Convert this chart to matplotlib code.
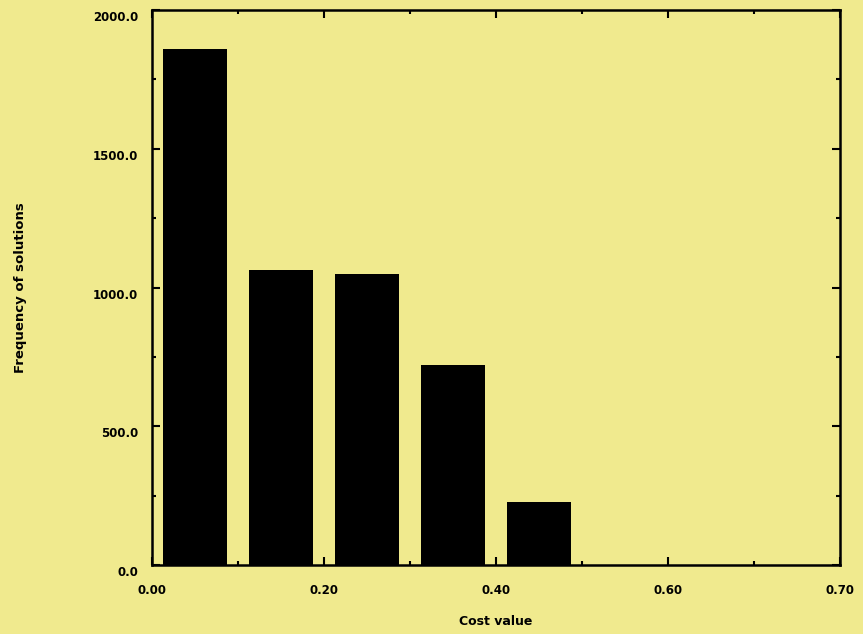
import numpy as np
import matplotlib.pyplot as plt
import matplotlib.transforms as mtransforms
from matplotlib.ticker import MultipleLocator

# data
cost_centers = [0.05, 0.15, 0.25, 0.35, 0.45]
frequencies = [1860, 1063, 1050, 720, 226]
x_ticks = [0.0, 0.2, 0.4, 0.6, 0.8]
x_tick_labels = ["0.00", "0.20", "0.40", "0.60", "0.70"]
y_ticks = [0, 500, 1000, 1500, 2000]
y_tick_labels = ["0.0", "500.0", "1000.0", "1500.0", "2000.0"]

bg = "#F0EA8E"

fig = plt.figure(figsize=(8.63, 6.34), dpi=100, facecolor=bg)
ax = fig.add_axes([0.176, 0.109, 0.797, 0.875], facecolor=bg)

ax.bar(cost_centers, frequencies, width=0.075, color="black")

ax.set_xlim(0, 0.8)
ax.set_ylim(0, 2000)
ax.set_xticks(x_ticks)
ax.set_xticklabels(x_tick_labels)
ax.set_yticks(y_ticks)
ax.set_yticklabels(y_tick_labels)
ax.xaxis.set_minor_locator(MultipleLocator(0.1))
ax.yaxis.set_minor_locator(MultipleLocator(250))

ax.tick_params(which="both", direction="in", top=True, right=True, width=1.5,
               labelsize=8.5)
ax.tick_params(which="major", length=6)
ax.tick_params(which="minor", length=3)
ax.tick_params(axis="x", pad=14)
ax.tick_params(axis="y", pad=10)

for lab in ax.get_xticklabels() + ax.get_yticklabels():
    lab.set_fontweight("bold")

# y labels sit a bit below their ticks in the reference
offset = mtransforms.ScaledTranslation(0, -6 / 100, fig.dpi_scale_trans)
for lab in ax.get_yticklabels():
    lab.set_transform(lab.get_transform() + offset)

for s in ax.spines.values():
    s.set_linewidth(1.8)

ax.set_xlabel("Cost value", fontsize=9, fontweight="bold", labelpad=13)
ax.set_ylabel("Frequency of solutions", fontsize=9.5, fontweight="bold", labelpad=47)

fig.savefig("out.png", dpi=100, facecolor=bg)
